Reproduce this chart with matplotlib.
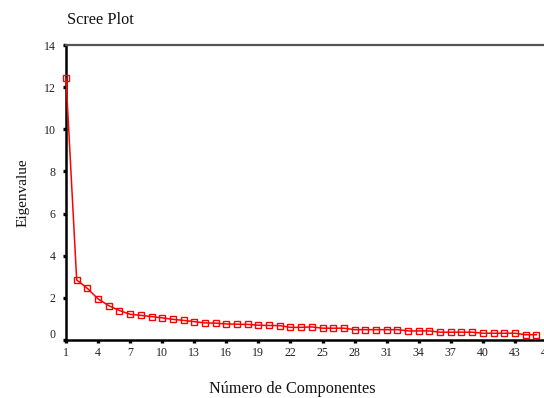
import numpy as np
import matplotlib
matplotlib.use("Agg")
import matplotlib.pyplot as plt
import matplotlib.transforms as mtransforms

# Eigenvalues
components = np.arange(1, 46)
eigenvalues = [12.43, 2.85, 2.45, 1.95, 1.63, 1.40, 1.22, 1.17, 1.11, 1.05,
               0.98, 0.93, 0.87, 0.81, 0.80, 0.76, 0.75, 0.74, 0.70, 0.69,
               0.68, 0.60, 0.60, 0.62, 0.56, 0.56, 0.56, 0.49, 0.49, 0.49,
               0.49, 0.49, 0.43, 0.43, 0.43, 0.37, 0.37, 0.37, 0.37, 0.32,
               0.32, 0.32, 0.32, 0.25, 0.25]
xticks = np.arange(1, 47, 3)
yticks = np.arange(0, 15, 2)

plt.rcParams['font.family'] = ['Liberation Serif', 'DejaVu Serif']

W, H = 544, 398
fig = plt.figure(figsize=(W / 100, H / 100), dpi=100)
# axes runs past the right edge of the figure, like the original
ax = fig.add_axes([66 / W, (H - 340) / H, 481 / W, 295 / H])

ax.plot(components, eigenvalues, color='#ff0000', lw=1.1, marker='s',
        markersize=4.0, markerfacecolor='none', markeredgecolor='#ff0000',
        markeredgewidth=1.0, clip_on=False, zorder=3)

ax.set_xlim(1, 46)
ax.set_ylim(0, 14)
ax.set_xticks(xticks)
ax.set_yticks(yticks)

for s in ['left', 'bottom']:
    ax.spines[s].set_linewidth(1.8)
    ax.spines[s].set_color('black')
ax.spines['top'].set_linewidth(1.6)
ax.spines['top'].set_color('#555555')
ax.spines['right'].set_visible(False)

ax.tick_params(axis='both', direction='out', length=2.4, width=2.4,
               color='black', labelsize=8.6, labelcolor='#222222')
ax.tick_params(axis='y', pad=5)
ax.tick_params(axis='x', pad=2.5)

# the 0 label sits a bit above its tick
lbl0 = ax.get_yticklabels()[0]
lbl0.set_transform(lbl0.get_transform() +
                   mtransforms.ScaledTranslation(0, 7 / 100, fig.dpi_scale_trans))

fig.text(67 / W, 1 - 20 / H, 'Scree Plot', fontsize=11.7, ha='left', va='center',
         color='#111111')
fig.text(292 / W, 1 - 389 / H, 'Número de Componentes', fontsize=11.7,
         ha='center', va='center', color='#111111')
fig.text(23 / W, 1 - 193 / H, 'Eigenvalue', fontsize=11, rotation=90,
         ha='center', va='center', color='#111111')

fig.savefig('out.png', dpi=100)
